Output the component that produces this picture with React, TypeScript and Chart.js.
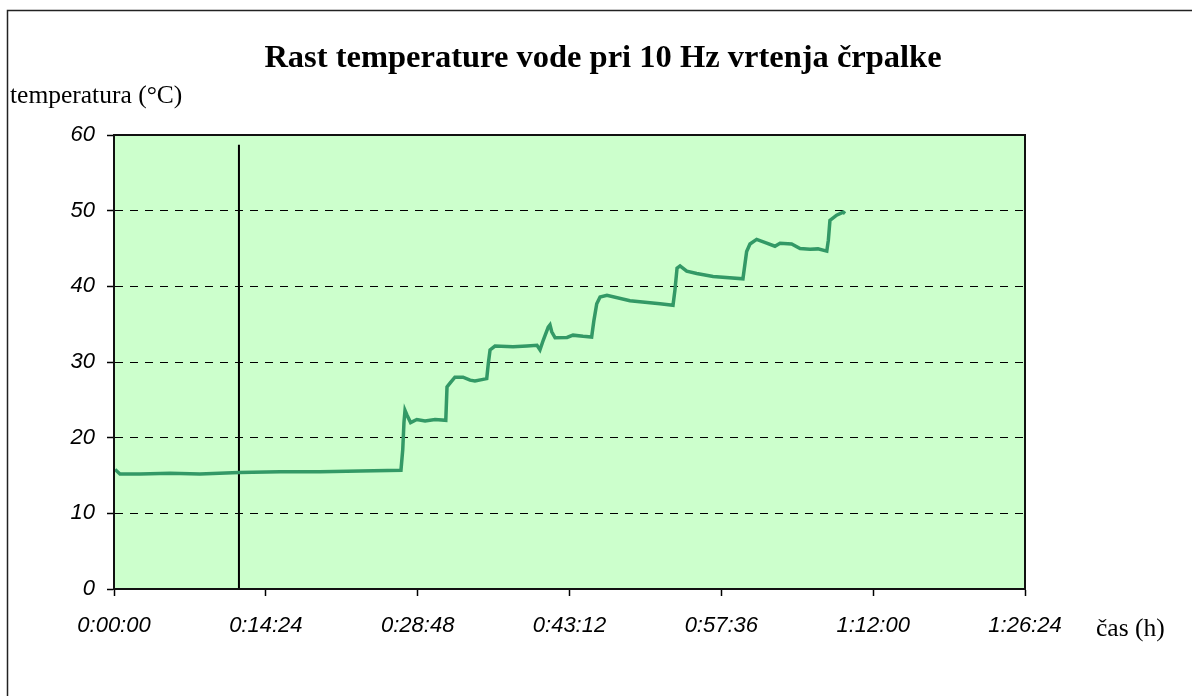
import React, { useEffect, useRef } from "react";
import { Chart, registerables } from "chart.js";

Chart.register(...registerables);

// time in seconds from start
const timeSec = [
  6, 34, 148, 319, 489, 711, 945, 1172, 1400, 1633,
  1643, 1650, 1656, 1667, 1688, 1723, 1770, 1827, 1888,
  1895, 1912, 1940, 1986, 2026, 2054, 2100, 2121,
  2130, 2140, 2168, 2271, 2350, 2407, 2424, 2443, 2471, 2481, 2491, 2510, 2578, 2612, 2669, 2718,
  2731, 2747, 2766, 2805, 2936, 3107, 3181,
  3192, 3204, 3221, 3259, 3316, 3409, 3579,
  3600, 3619, 3657, 3714, 3761, 3790, 3856, 3904, 3961, 4006, 4056,
  4065, 4074, 4112, 4150, 4160,
];
// water temperature in °C
const tempC = [
  15.8, 15.2, 15.2, 15.3, 15.2, 15.4, 15.5, 15.5, 15.6, 15.7,
  18.4, 22.0, 23.6, 23.0, 22.0, 22.4, 22.2, 22.4, 22.3,
  26.7, 27.2, 28.0, 28.0, 27.6, 27.5, 27.7, 27.8,
  29.8, 31.6, 32.1, 32.0, 32.1, 32.2, 31.6, 32.9, 34.6, 34.9, 34.0, 33.2, 33.25, 33.55, 33.4, 33.3,
  35.5, 37.7, 38.6, 38.8, 38.1, 37.7, 37.5,
  39.5, 42.4, 42.7, 42.0, 41.7, 41.3, 41.0,
  44.6, 45.6, 46.2, 45.7, 45.3, 45.7, 45.6, 45.0, 44.9, 44.95, 44.65,
  46.1, 48.7, 49.4, 49.8, 49.6,
];

// vertical marker line
const markerTime = [711, 711];
const markerTemp = [0, 58.7];

const xTickLabels = ["0:00:00", "0:14:24", "0:28:48", "0:43:12", "0:57:36", "1:12:00", "1:26:24"];
const xMax = 5184;
const xStep = 864;
const yMin = 0;
const yMax = 60;
const yStep = 10;

const titleText = "Rast temperature vode pri 10 Hz vrtenja črpalke";
const yAxisTitle = "temperatura (°C)";
const xAxisTitle = "čas (h)";

export default function App() {
  const ref = useRef<HTMLCanvasElement | null>(null);

  useEffect(() => {
    const canvas = ref.current;
    if (!canvas) return;

    const decor = {
      id: "decor",
      beforeDraw(chart: any) {
        const { ctx, chartArea } = chart;
        ctx.save();
        ctx.fillStyle = "#ffffff";
        ctx.fillRect(0, 0, chart.width, chart.height);
        ctx.fillStyle = "#CCFFCC";
        ctx.fillRect(chartArea.left, chartArea.top, chartArea.right - chartArea.left, chartArea.bottom - chartArea.top);
        ctx.restore();
      },
      afterDraw(chart: any) {
        const { ctx, chartArea } = chart;
        ctx.save();
        ctx.strokeStyle = "#111";
        ctx.lineWidth = 2;
        ctx.strokeRect(chartArea.left, chartArea.top, chartArea.right - chartArea.left, chartArea.bottom - chartArea.top);
        ctx.strokeStyle = "#222";
        ctx.lineWidth = 1.5;
        ctx.strokeRect(7.5, 10.5, 3000, 3000);
        ctx.fillStyle = "#000";
        ctx.textBaseline = "alphabetic";
        ctx.font = "bold 32.5px 'Liberation Serif', 'Times New Roman', serif";
        ctx.textAlign = "center";
        ctx.fillText(titleText, 603, 67);
        ctx.font = "25.5px 'Liberation Serif', 'Times New Roman', serif";
        ctx.textAlign = "left";
        ctx.fillText(yAxisTitle, 10, 103);
        ctx.fillText(xAxisTitle, 1096, 636);
        ctx.restore();
      },
    };

    const chart = new Chart(canvas, {
      type: "line",
      data: {
        datasets: [
          {
            label: "temperatura",
            data: timeSec.map((t, i) => ({ x: t, y: tempC[i] })),
            borderColor: "#339966",
            borderWidth: 3.5,
            pointRadius: 0,
            tension: 0,
            fill: false,
          },
          {
            label: "marker",
            data: markerTime.map((t, i) => ({ x: t, y: markerTemp[i] })),
            borderColor: "#000000",
            borderWidth: 2,
            pointRadius: 0,
            tension: 0,
            fill: false,
          },
        ],
      },
      options: {
        animation: false,
        responsive: false,
        maintainAspectRatio: false,
        layout: { padding: { left: 0, right: 167, top: 135, bottom: 0 } },
        plugins: {
          legend: { display: false },
          title: { display: false },
          tooltip: { enabled: false },
        },
        scales: {
          x: {
            type: "linear",
            min: 0,
            max: xMax,
            afterBuildTicks(scale: any) {
              scale.ticks = xTickLabels.map((_, i) => ({ value: i * xStep }));
            },
            afterFit(scale: any) {
              scale.height = 107;
            },
            ticks: {
              autoSkip: false,
              maxRotation: 0,
              padding: 17,
              color: "#000",
              font: { family: "'Liberation Sans', Arial, sans-serif", size: 22, style: "italic" },
              callback: (_v: any, i: number) => xTickLabels[i],
            },
            grid: {
              display: true,
              drawOnChartArea: false,
              drawTicks: true,
              tickLength: 7,
              tickColor: "#000",
              tickWidth: 1.5,
            },
            border: { display: true, color: "#000", width: 2 },
          },
          y: {
            min: yMin,
            max: yMax,
            afterFit(scale: any) {
              scale.width = 114;
            },
            ticks: {
              stepSize: yStep,
              padding: 12,
              color: "#000",
              font: { family: "'Liberation Sans', Arial, sans-serif", size: 22, style: "italic" },
            },
            grid: {
              display: true,
              drawOnChartArea: true,
              drawTicks: true,
              tickLength: 7,
              lineWidth: 1,
              color: (ctx: any) => {
                const v = ctx.tick ? ctx.tick.value : null;
                return v === yMin || v === yMax ? "rgba(0,0,0,0)" : "#000";
              },
              tickColor: "#000",
              tickWidth: 1.5,
              tickBorderDash: [],
            },
            border: { display: true, color: "#000", width: 2, dash: [8, 7] },
          },
        },
      },
      plugins: [decor],
    });

    return () => chart.destroy();
  }, []);

  return (
    <div style={{ position: "fixed", left: 0, top: 0, width: 1192, height: 696, overflow: "hidden", background: "#fff" }}>
      <canvas ref={ref} width={1192} height={696} style={{ display: "block", width: 1192, height: 696 }} />
    </div>
  );
}
